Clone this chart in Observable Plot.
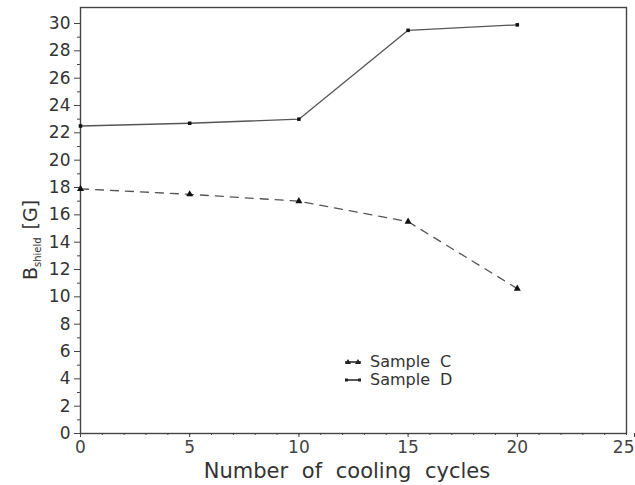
<!DOCTYPE html>
<html><head><meta charset="utf-8">
<script src="https://cdn.jsdelivr.net/npm/d3@7"></script>
<script src="https://cdn.jsdelivr.net/npm/@observablehq/plot@0.6"></script>
<style>
body{margin:0;background:#fff}
#wrap{position:relative;width:635px;height:485px;font-family:"DejaVu Sans",sans-serif;color:#333}
#legend{position:absolute;left:344px;top:353px;font-size:16px;line-height:18px;word-spacing:5px}
#legend .row{display:flex;align-items:center;height:18px}
#legend svg{margin-right:8px}
</style>
</head><body><div id="wrap"><div id="legend"></div></div>
<script>
const cycles = [0, 5, 10, 15, 20];
const sampleC = [17.9, 17.5, 17.0, 15.5, 10.6];
const sampleD = [22.5, 22.7, 23.0, 29.5, 29.9];
const xMajor = [0, 5, 10, 15, 20];
const xLast = [25];
const xMinor = d3.range(0, 26, 1);
const yMajor = d3.range(0, 31, 2);
const yMinor = d3.range(1, 31, 2);
const seriesNames = ["Sample C", "Sample D"];

const dataC = cycles.map((c, i) => ({x: c, y: sampleC[i]}));
const dataD = cycles.map((c, i) => ({x: c, y: sampleD[i]}));

const ink = "#444";
const chart = Plot.plot({
  width: 635, height: 485,
  marginLeft: 80, marginRight: 9, marginTop: 7, marginBottom: 52,
  style: {fontFamily: "DejaVu Sans, sans-serif", fontSize: "17px", color: "#333", background: "#fff"},
  x: {domain: [0, 25], label: null},
  y: {domain: [0, 31.17], label: null},
  marks: [
    Plot.frame({stroke: ink, strokeWidth: 1.4}),
    Plot.axisY({ticks: yMajor, tickSize: 6, tickPadding: 4, stroke: ink, fill: "#333", fontSize: 17, label: null}),
    Plot.axisY({ticks: yMinor, tickSize: 3, text: null, stroke: ink, label: null}),
    Plot.axisX({ticks: xMajor, tickSize: 4, tickPadding: 3, stroke: ink, fill: "#444", fontSize: 17, label: null}),
    Plot.axisX({ticks: xLast, tickSize: 4, tickPadding: 3, stroke: ink, fill: "#444", fontSize: 17, label: null, textAnchor: "end", dx: 8}),
    Plot.axisX({ticks: xMinor, tickSize: 2, text: null, stroke: ink, label: null}),
    Plot.line(dataD, {x: "x", y: "y", stroke: "#555", strokeWidth: 1.3}),
    Plot.line(dataC, {x: "x", y: "y", stroke: "#555", strokeWidth: 1.3, strokeDasharray: "8,7"}),
    Plot.dot(dataD, {x: "x", y: "y", symbol: "square", r: 2, fill: "#111"}),
    Plot.dot(dataC, {x: "x", y: "y", symbol: "triangle", r: 2.6, fill: "#111"})
  ]
});
document.getElementById("wrap").prepend(chart);

const svg = d3.select(chart);
svg.append("text")
  .attr("x", 347).attr("y", 478)
  .attr("text-anchor", "middle")
  .attr("font-size", 21).attr("fill", "#333")
  .attr("word-spacing", "7px")
  .text("Number of cooling cycles");
const yl = svg.append("text")
  .attr("transform", "translate(37,240) rotate(-90)")
  .attr("text-anchor", "middle")
  .attr("font-size", 19).attr("fill", "#333");
yl.append("tspan").text("B");
yl.append("tspan").attr("font-size", 10).attr("dy", 4).text("shield");
yl.append("tspan").attr("dy", -4).attr("dx", 8).text("[G]");

const legend = d3.select("#legend");
seriesNames.forEach((name, i) => {
  const row = legend.append("div").attr("class", "row");
  const s = row.append("svg").attr("width", 18).attr("height", 10);
  s.append("line").attr("x1", 1).attr("x2", 17).attr("y1", 5).attr("y2", 5).attr("stroke", "#222").attr("stroke-width", 1.5);
  if (i === 0) {
    s.append("path").attr("d", "M1,7 L4,2 L7,7 Z M11,7 L14,2 L17,7 Z").attr("fill", "#222");
  } else {
    s.append("rect").attr("x", 1).attr("y", 3.5).attr("width", 3).attr("height", 3).attr("fill", "#222");
    s.append("rect").attr("x", 14).attr("y", 3.5).attr("width", 3).attr("height", 3).attr("fill", "#222");
  }
  row.append("span").text(name);
});
</script>
</body></html>
